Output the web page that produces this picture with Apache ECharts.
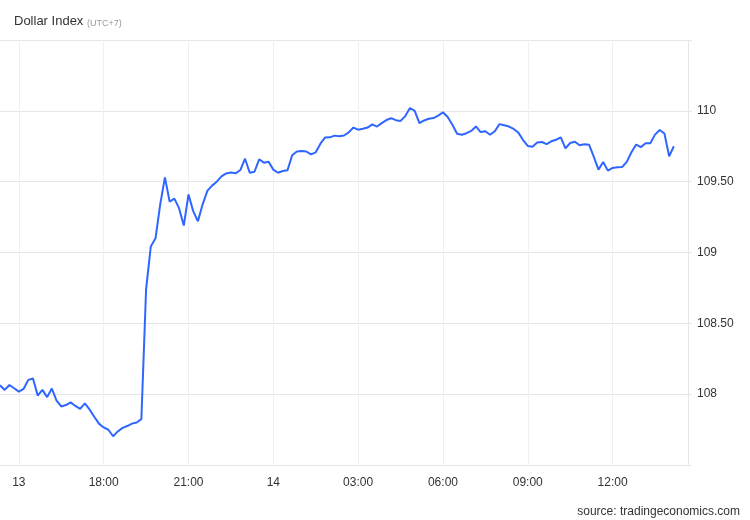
<!DOCTYPE html>
<html>
<head>
<meta charset="utf-8">
<script src="https://cdn.jsdelivr.net/npm/echarts@6/dist/echarts.min.js"></script>
<style>
  html, body { margin: 0; padding: 0; background: #fff; }
  #chart { width: 750px; height: 520px; }
</style>
</head>
<body>
<div id="chart"></div>
<script>
// x domain: 10-minute steps starting 13th 14:20 (UTC+7)
const startDay = 13, startHour = 14, startMinute = 20, stepMinutes = 10, categoryCount = 147;

// Dollar Index values, one every 10 minutes
const values = [
  108.063, 108.030, 108.065, 108.042, 108.018, 108.037, 108.101, 108.110, 107.990, 108.030,
  107.979, 108.040, 107.955, 107.913, 107.923, 107.942, 107.917, 107.896, 107.935, 107.892,
  107.841, 107.792, 107.765, 107.749, 107.703, 107.737, 107.762, 107.775, 107.792, 107.800,
  107.824, 108.739, 109.043, 109.100, 109.340, 109.530, 109.359, 109.380, 109.313, 109.190,
  109.410, 109.292, 109.220, 109.340, 109.435, 109.472, 109.500, 109.537, 109.558, 109.565,
  109.559, 109.582, 109.662, 109.563, 109.570, 109.658, 109.634, 109.641, 109.585, 109.563,
  109.575, 109.580, 109.687, 109.713, 109.716, 109.713, 109.693, 109.707, 109.768, 109.812,
  109.813, 109.825, 109.820, 109.826, 109.848, 109.882, 109.867, 109.873, 109.882, 109.904,
  109.889, 109.913, 109.935, 109.948, 109.934, 109.929, 109.963, 110.020, 110.000, 109.913,
  109.932, 109.944, 109.949, 109.966, 109.990, 109.956, 109.902, 109.838, 109.831, 109.842,
  109.858, 109.890, 109.850, 109.856, 109.831, 109.856, 109.906, 109.898, 109.889, 109.872,
  109.846, 109.794, 109.752, 109.747, 109.777, 109.780, 109.765, 109.785, 109.796, 109.812,
  109.735, 109.773, 109.782, 109.757, 109.764, 109.761, 109.677, 109.585, 109.639, 109.578,
  109.597, 109.601, 109.603, 109.640, 109.708, 109.762, 109.744, 109.771, 109.771, 109.832,
  109.865, 109.840, 109.679, 109.750
];

// x tick labels keyed by category
const xTickLabels = {
  "13 15:00": "13", "13 18:00": "18:00", "13 21:00": "21:00", "14 00:00": "14",
  "14 03:00": "03:00", "14 06:00": "06:00", "14 09:00": "09:00", "14 12:00": "12:00"
};
// y tick labels
const yTickLabels = { "108": "108", "108.5": "108.50", "109": "109", "109.5": "109.50", "110": "110" };

const categories = [];
for (let i = 0; i < categoryCount; i++) {
  const total = startHour * 60 + startMinute + i * stepMinutes;
  const day = startDay + Math.floor(total / 1440);
  const m = total % 1440;
  const hh = String(Math.floor(m / 60)).padStart(2, '0');
  const mm = String(m % 60).padStart(2, '0');
  categories.push(day + ' ' + hh + ':' + mm);
}

const showTick = (idx, val) => Object.prototype.hasOwnProperty.call(xTickLabels, val);
const FONT = '"Liberation Sans", Arial, sans-serif';

const chart = echarts.init(document.getElementById('chart'), null, { renderer: 'canvas' });
chart.setOption({
  animation: false,
  backgroundColor: '#ffffff',
  grid: { left: 0, right: 62, top: 40, bottom: 55, containLabel: false },
  graphic: [
    { type: 'text', left: 14, top: 15, style: { text: 'Dollar Index', font: '13px ' + FONT, fill: '#333333' } },
    { type: 'text', left: 87, top: 19, style: { text: '(UTC+7)', font: '9px ' + FONT, fill: '#999999' } },
    { type: 'text', right: 10, top: 506, style: { text: 'source: tradingeconomics.com', font: '12px ' + FONT, fill: '#333333' } }
  ],
  xAxis: {
    type: 'category',
    data: categories,
    boundaryGap: false,
    axisLine: { show: true, lineStyle: { color: '#e6e6e6', width: 1 } },
    axisTick: { show: false },
    axisLabel: {
      interval: showTick,
      formatter: v => xTickLabels[v] || '',
      color: '#333333', fontSize: 12, fontFamily: FONT, margin: 12
    },
    splitLine: { show: true, interval: showTick, lineStyle: { color: '#edf1f7', width: 1 } }
  },
  yAxis: {
    type: 'value',
    position: 'right',
    min: 107.5, max: 110.5, interval: 0.5,
    axisLine: { show: true, lineStyle: { color: '#e6e6e6', width: 1 } },
    axisTick: { show: true, length: 4, lineStyle: { color: '#e6e6e6' } },
    axisLabel: {
      formatter: v => yTickLabels[String(Math.round(v * 10) / 10)] || '',
      color: '#333333', fontSize: 12, fontFamily: FONT, margin: 9
    },
    splitLine: { show: true, lineStyle: { color: '#e6e6e6', width: 1 } }
  },
  series: [{
    type: 'line',
    data: values,
    showSymbol: false,
    symbol: 'none',
    smooth: false,
    lineStyle: { color: '#2f66ff', width: 2 },
    itemStyle: { color: '#2f66ff' }
  }]
});
</script>
</body>
</html>
